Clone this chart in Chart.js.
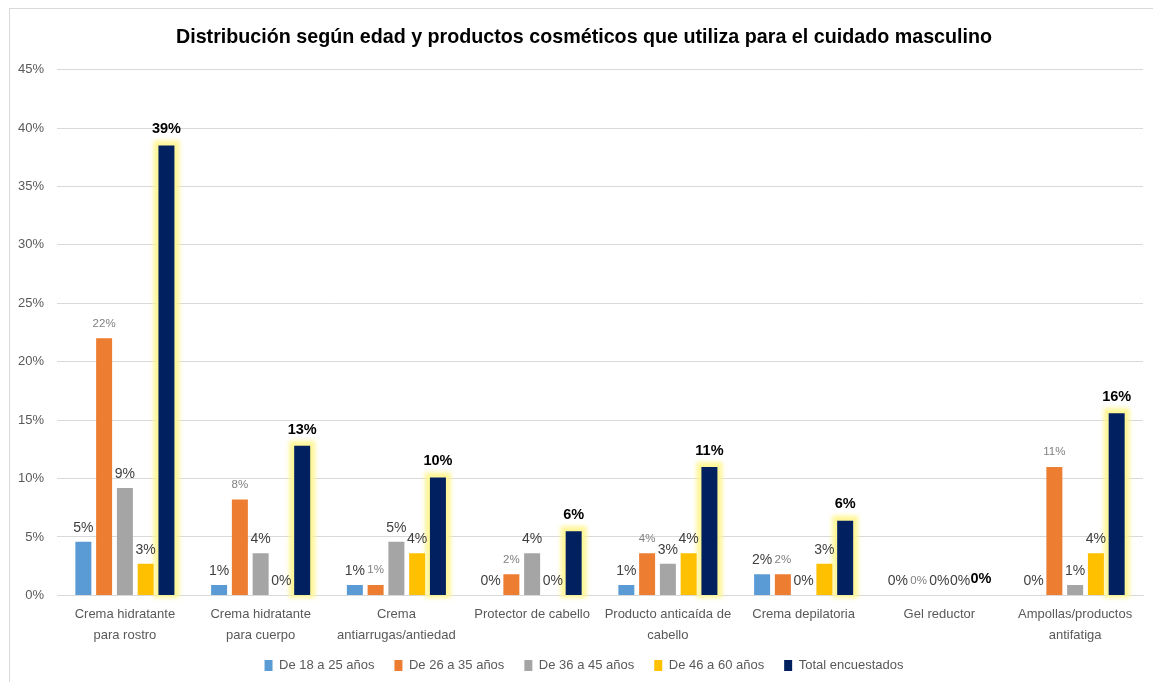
<!DOCTYPE html>
<html>
<head>
<meta charset="utf-8">
<script src="https://cdn.jsdelivr.net/npm/chart.js@4.4.1/dist/chart.umd.min.js"></script>
<style>
  html, body { margin: 0; padding: 0; background: #fff; }
  #wrap { position: relative; width: 1153px; height: 682px; }
  #frame { position: absolute; left: 9px; top: 8px; right: -2px; bottom: -2px; border-left: 1px solid #d9d9d9; border-top: 1px solid #d9d9d9; }
  canvas { position: absolute; left: 0; top: 0; }
</style>
</head>
<body>
<div id="wrap">
  <div id="frame"></div>
  <canvas id="chart-canvas" width="1153" height="682"></canvas>
</div>
<script>
const categories = [
  ["Crema hidratante", "para rostro"],
  ["Crema hidratante", "para cuerpo"],
  ["Crema", "antiarrugas/antiedad"],
  "Protector de cabello",
  ["Producto anticaída de", "cabello"],
  "Crema depilatoria",
  "Gel reductor",
  ["Ampollas/productos", "antifatiga"]
];
const seriesNames = ["De 18 a 25 años", "De 26 a 35 años", "De 36 a 45 años", "De 46 a 60 años", "Total encuestados"];
const edad18a25 = [4.6, 0.9, 0.9, 0, 0.9, 1.8, 0, 0];
const edad26a35 = [22.0, 8.2, 0.9, 1.8, 3.6, 1.8, 0, 11.0];
const edad36a45 = [9.2, 3.6, 4.6, 3.6, 2.7, 0, 0, 0.9];
const edad46a60 = [2.7, 0, 3.6, 0, 3.6, 2.7, 0, 3.6];
const totalEncuestados = [38.5, 12.8, 10.1, 5.5, 11.0, 6.4, 0, 15.6];
const yTicks = [0, 5, 10, 15, 20, 25, 30, 35, 40, 45];

const colores = ["#5b9bd5", "#ed7d31", "#a5a5a5", "#ffc000", "#002060"];
const fuente = "'Liberation Sans', Arial, sans-serif";

// estilo de etiqueta por serie
const estiloEtiqueta = [
  { font: "14px " + fuente, color: "#404040", sep: 7 },
  { font: "11.5px " + fuente, color: "#808080", sep: 9 },
  { font: "14px " + fuente, color: "#404040", sep: 7 },
  { font: "14px " + fuente, color: "#404040", sep: 7 },
  { font: "bold 14.5px " + fuente, color: "#000000", sep: 9 }
];

// brillo amarillo alrededor de las barras del total
const brilloPlugin = {
  id: "brillo",
  afterLayout(chart) {
    // centrar titulo y leyenda como en el original
    chart.titleBlock.left += 10;
    chart.titleBlock.right += 10;
    chart.legend.left += 10;
    chart.legend.right += 10;
    chart.legend.top -= 8;
    chart.legend.bottom -= 8;
  },
  beforeDatasetDraw(chart, args) {
    if (args.index !== 4) return;
    const ctx = chart.ctx;
    const meta = chart.getDatasetMeta(4);
    ctx.save();
    ctx.filter = "blur(2px)";
    ctx.fillStyle = "rgba(255, 245, 140, 0.9)";
    meta.data.forEach(bar => {
      const w = bar.width;
      const h = bar.base - bar.y;
      if (h <= 0) return;
      ctx.fillRect(bar.x - w / 2 - 5, bar.y - 5, w + 10, h + 8);
    });
    ctx.restore();
  }
};

// etiquetas de valor encima de cada barra
const etiquetasPlugin = {
  id: "etiquetas",
  afterDatasetsDraw(chart) {
    const ctx = chart.ctx;
    chart.data.datasets.forEach((ds, i) => {
      const meta = chart.getDatasetMeta(i);
      ctx.save();
      ctx.font = estiloEtiqueta[i].font;
      ctx.fillStyle = estiloEtiqueta[i].color;
      ctx.textAlign = "center";
      ctx.textBaseline = "bottom";
      meta.data.forEach((bar, j) => {
        ctx.fillText(Math.round(ds.data[j]) + "%", bar.x, bar.y - estiloEtiqueta[i].sep);
      });
      ctx.restore();
    });
  }
};

const datos = [edad18a25, edad26a35, edad36a45, edad46a60, totalEncuestados];

const ctx = document.getElementById("chart-canvas").getContext("2d");
new Chart(ctx, {
  type: "bar",
  data: {
    labels: categories,
    datasets: datos.map((d, i) => ({
      label: seriesNames[i],
      data: d,
      backgroundColor: colores[i],
      categoryPercentage: 0.765,
      barPercentage: 0.77
    }))
  },
  options: {
    responsive: false,
    animation: false,
    layout: { padding: { left: 5, right: 10, top: 16, bottom: -8 } },
    plugins: {
      title: {
        display: true,
        text: "Distribución según edad y productos cosméticos que utiliza para el cuidado masculino",
        color: "#000",
        font: { family: fuente, size: 19.7, weight: "bold" },
        padding: { top: 10, bottom: 20 }
      },
      legend: {
        position: "bottom",
        labels: {
          color: "#595959",
          font: { family: fuente, size: 13 },
          boxWidth: 8,
          boxHeight: 11,
          padding: 20
        }
      },
      tooltip: { enabled: false }
    },
    scales: {
      x: {
        grid: { display: false },
        border: { color: "#d9d9d9" },
        ticks: {
          color: "#595959",
          font: { family: fuente, size: 13, lineHeight: 1.6 },
          maxRotation: 0,
          autoSkip: false,
          padding: 1
        }
      },
      y: {
        min: 0,
        max: 45,
        afterBuildTicks(axis) {
          axis.ticks = yTicks.map(v => ({ value: v }));
        },
        grid: { color: "#d9d9d9", drawTicks: false },
        border: { display: false },
        ticks: {
          color: "#595959",
          font: { family: fuente, size: 13 },
          padding: 13,
          callback: v => v + "%"
        }
      }
    }
  },
  plugins: [brilloPlugin, etiquetasPlugin]
});
</script>
</body>
</html>
